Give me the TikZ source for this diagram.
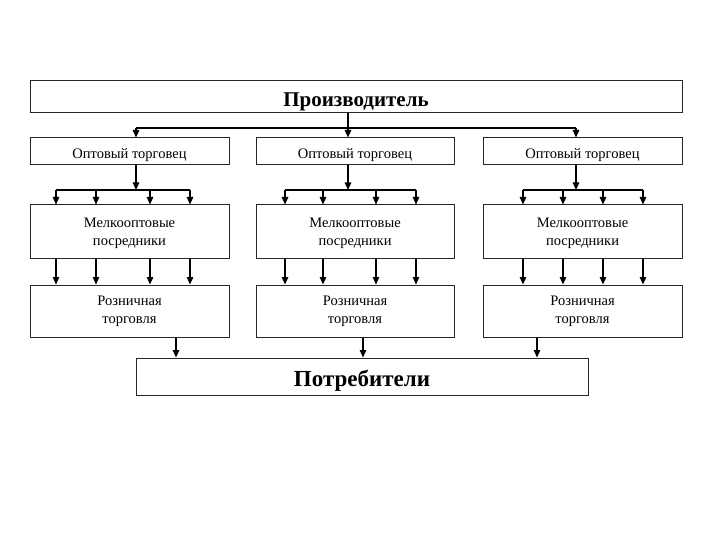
\documentclass[tikz,border=0pt]{standalone}
\usepackage{fontspec}
\setmainfont{Liberation Serif}
\usetikzlibrary{arrows.meta}
\begin{document}
\begin{tikzpicture}[x=1pt,y=-1pt,
  box/.style={draw=black!85, line width=1pt, inner sep=0pt, align=center, fill=white},
  small/.style={font=\fontsize{14.5}{18}\selectfont},
  big/.style={font=\fontsize{21}{24}\selectfont\bfseries},
  arr/.style={line width=1.2pt, -{Triangle[width=6.5pt,length=7.5pt]}},
  ln/.style={line width=1.2pt}]
\useasboundingbox (0,0) rectangle (720,540);
% top
\node[box,big,text height=20pt,text depth=0pt,minimum width=652pt,minimum height=32pt] (prod) at (356,97) {Производитель};
% wholesalers
\tikzset{optbox/.style={box,small,text height=15pt,text depth=0pt,minimum height=27pt}}
\node[optbox,minimum width=199pt] (opt1) at (129.5,151.5) {Оптовый торговец};
\node[optbox,minimum width=198pt] (opt2) at (355,151.5) {Оптовый торговец};
\node[optbox,minimum width=199pt] (opt3) at (582.5,151.5) {Оптовый торговец};
% small wholesalers
\tikzset{melkbox/.style={box,small,text depth=0pt,minimum height=53pt}}
\node[melkbox,minimum width=199pt] (melk1) at (129.5,231.5) {Мелкооптовые\\посредники};
\node[melkbox,minimum width=198pt] (melk2) at (355,231.5) {Мелкооптовые\\посредники};
\node[melkbox,minimum width=199pt] (melk3) at (582.5,231.5) {Мелкооптовые\\посредники};
% retail
\tikzset{roznbox/.style={box,small,minimum height=52pt}}
\node[roznbox,minimum width=199pt] (rozn1) at (129.5,311) {Розничная\\торговля};
\node[roznbox,minimum width=198pt] (rozn2) at (355,311) {Розничная\\торговля};
\node[roznbox,minimum width=199pt] (rozn3) at (582.5,311) {Розничная\\торговля};
% consumers
\node[box,font=\fontsize{23}{26}\selectfont\bfseries,text height=20.5pt,text depth=0pt,minimum width=452pt,minimum height=37pt] (potr) at (362,376.5) {Потребители};

% top bus
\coordinate (tb0) at (348,128);
\coordinate (tb1) at (136,128);
\coordinate (tb3) at (576,128);
\draw[ln] (tb1) -- (tb3);
\draw[arr] (prod.south -| tb0) -- (tb0 |- opt2.north);
\draw[arr] (tb1) -- (tb1 |- opt1.north);
\draw[arr] (tb3) -- (tb3 |- opt3.north);

% group buses
\foreach \g/\cx/\a/\b/\c/\d in {1/136/56/96/150/190, 2/348/285/323/376/416, 3/576/523/563/603/643}{
  \coordinate (c\g) at (\cx,190);
  \draw[arr] (opt\g.south -| c\g) -- (c\g);
  \draw[ln] (\a,190) coordinate (l\g) -- (\d,190) coordinate (r\g);
  \foreach \x in {\a,\b,\c,\d}{
    \coordinate (p) at (\x,190);
    \draw[arr] (p) -- (p |- melk\g.north);
    \draw[arr] (p |- melk\g.south) -- (p |- rozn\g.north);
  }
}

% to consumers
\coordinate (q1) at (176,358);
\coordinate (q2) at (363,358);
\coordinate (q3) at (537,358);
\draw[arr] (rozn1.south -| q1) -- (q1 |- potr.north);
\draw[arr] (rozn2.south -| q2) -- (q2 |- potr.north);
\draw[arr] (rozn3.south -| q3) -- (q3 |- potr.north);
\end{tikzpicture}
\end{document}
